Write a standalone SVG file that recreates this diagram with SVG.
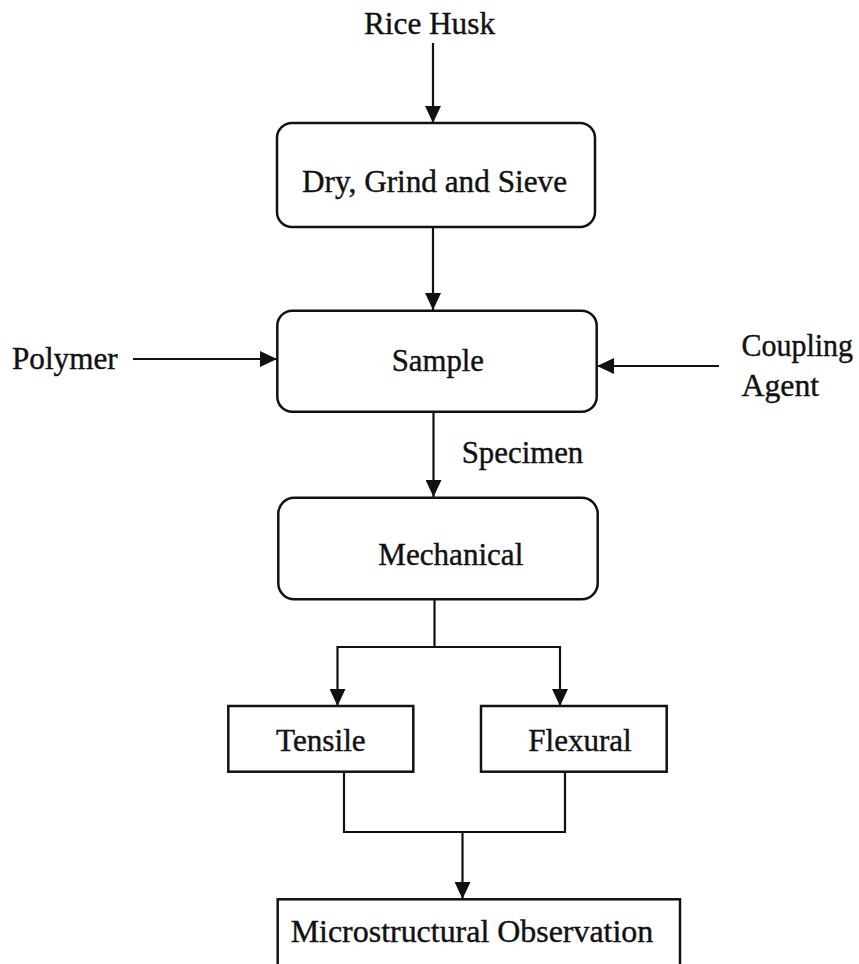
<svg xmlns="http://www.w3.org/2000/svg" width="859" height="964" viewBox="0 0 859 964">
  <style>
    .box { fill: #ffffff; stroke: #111111; stroke-width: 2.5; }
    .lbl { font-family: "Liberation Serif", "Times New Roman", serif; font-size: 32px; fill: #111111; stroke: #111111; stroke-width: 0.4; }
    .con { fill: none; stroke: #111111; stroke-width: 2.2; }
  </style>
  <defs>
    <marker id="arr" markerUnits="userSpaceOnUse" markerWidth="17" markerHeight="16" refX="17" refY="8" orient="auto">
      <path d="M0,0 L17,8 L0,16 z" fill="#111111"/>
    </marker>
  </defs>
  <rect width="859" height="964" fill="#ffffff"/>

  <g id="connectors">
    <line class="con" x1="433" y1="43" x2="433" y2="123" marker-end="url(#arr)"/>
    <line class="con" x1="433" y1="227" x2="433" y2="310" marker-end="url(#arr)"/>
    <line class="con" x1="133" y1="359" x2="277" y2="359" marker-end="url(#arr)"/>
    <line class="con" x1="719" y1="366" x2="597" y2="366" marker-end="url(#arr)"/>
    <line class="con" x1="433.5" y1="412" x2="433.5" y2="497" marker-end="url(#arr)"/>
    <line class="con" x1="434.5" y1="599" x2="434.5" y2="647"/>
    <line class="con" x1="337.5" y1="647" x2="560" y2="647"/>
    <line class="con" x1="337.5" y1="646" x2="337.5" y2="706" marker-end="url(#arr)"/>
    <line class="con" x1="560" y1="646" x2="560" y2="706" marker-end="url(#arr)"/>
    <polyline class="con" points="344,772 344,832 565,832 565,772"/>
    <line class="con" x1="462.5" y1="832" x2="462.5" y2="899" marker-end="url(#arr)"/>
  </g>

  <g id="rice-husk">
    <text class="lbl" x="364" y="34" textLength="131" lengthAdjust="spacingAndGlyphs">Rice Husk</text>
  </g>
  <g id="dry-grind-sieve">
    <rect class="box" x="277" y="123" width="318" height="104" rx="15" ry="15"/>
    <text class="lbl" x="302" y="192" textLength="265" lengthAdjust="spacingAndGlyphs">Dry, Grind and Sieve</text>
  </g>
  <g id="polymer">
    <text class="lbl" x="12" y="369" textLength="105.6" lengthAdjust="spacingAndGlyphs">Polymer</text>
  </g>
  <g id="sample">
    <rect class="box" x="277.3" y="310.7" width="319.4" height="101" rx="15" ry="15"/>
    <text class="lbl" x="391.7" y="371" textLength="92.3" lengthAdjust="spacingAndGlyphs">Sample</text>
  </g>
  <g id="coupling-agent">
    <text class="lbl" x="741.5" y="355.5" textLength="111.6" lengthAdjust="spacingAndGlyphs">Coupling</text>
    <text class="lbl" x="741.5" y="396" textLength="77.6" lengthAdjust="spacingAndGlyphs">Agent</text>
  </g>
  <g id="specimen">
    <text class="lbl" x="461.7" y="463.3" textLength="121.6" lengthAdjust="spacingAndGlyphs">Specimen</text>
  </g>
  <g id="mechanical">
    <rect class="box" x="278.3" y="497.7" width="319.4" height="101.6" rx="16" ry="16"/>
    <text class="lbl" x="378.3" y="565" textLength="145" lengthAdjust="spacingAndGlyphs">Mechanical</text>
  </g>
  <g id="tensile">
    <rect class="box" x="228.3" y="706" width="185" height="65.7"/>
    <text class="lbl" x="276" y="750.7" textLength="89.7" lengthAdjust="spacingAndGlyphs">Tensile</text>
  </g>
  <g id="flexural">
    <rect class="box" x="481" y="706" width="185.7" height="65.7"/>
    <text class="lbl" x="528.3" y="750.7" textLength="103.4" lengthAdjust="spacingAndGlyphs">Flexural</text>
  </g>
  <g id="microstructural-observation">
    <rect class="box" x="277.7" y="899.3" width="402.3" height="90"/>
    <text class="lbl" x="290.7" y="941.7" textLength="362.6" lengthAdjust="spacingAndGlyphs">Microstructural Observation</text>
  </g>
</svg>
